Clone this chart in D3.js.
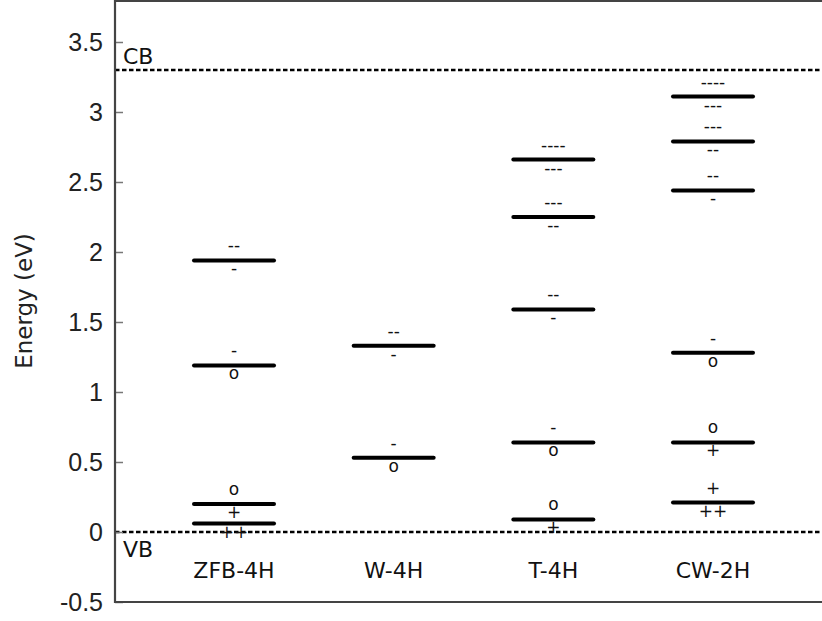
<!DOCTYPE html>
<html>
<head>
<meta charset="utf-8">
<script src="https://cdn.jsdelivr.net/npm/d3@7"></script>
<style>
  html, body { margin: 0; padding: 0; background: #fff; }
  svg { display: block; }
</style>
</head>
<body>
<div id="chart"></div>
<script>
// structures along the x axis
const categories = ['ZFB-4H', 'W-4H', 'T-4H', 'CW-2H'];

// defect levels (eV) with charge-state marks above / below each level
const levels = [
  { cat: 'ZFB-4H', e: 1.94, above: '--',   below: '-'   },
  { cat: 'ZFB-4H', e: 1.19, above: '-',    below: 'o'   },
  { cat: 'ZFB-4H', e: 0.20, above: 'o',    below: '+'   },
  { cat: 'ZFB-4H', e: 0.06, above: '',     below: '++'  },
  { cat: 'W-4H',   e: 1.33, above: '--',   below: '-'   },
  { cat: 'W-4H',   e: 0.53, above: '-',    below: 'o'   },
  { cat: 'T-4H',   e: 2.66, above: '----', below: '---' },
  { cat: 'T-4H',   e: 2.25, above: '---',  below: '--'  },
  { cat: 'T-4H',   e: 1.59, above: '--',   below: '-'   },
  { cat: 'T-4H',   e: 0.64, above: '-',    below: 'o'   },
  { cat: 'T-4H',   e: 0.09, above: 'o',    below: '+'   },
  { cat: 'CW-2H',  e: 3.11, above: '----', below: '---' },
  { cat: 'CW-2H',  e: 2.79, above: '---',  below: '--'  },
  { cat: 'CW-2H',  e: 2.44, above: '--',   below: '-'   },
  { cat: 'CW-2H',  e: 1.28, above: '-',    below: 'o'   },
  { cat: 'CW-2H',  e: 0.64, above: 'o',    below: '+'   },
  { cat: 'CW-2H',  e: 0.21, above: '+',    below: '++'  }
];

// band edges
const bandEdges = [
  { label: 'CB', e: 3.3 },
  { label: 'VB', e: 0 }
];

const yTicks = [-0.5, 0, 0.5, 1, 1.5, 2, 2.5, 3, 3.5];
const yDomain = [-0.5, 3.8];

const width = 822, height = 621;
const plot = { left: 115, right: 840, top: 0, bottom: 602 };

const svg = d3.select('#chart')
  .append('svg')
  .attr('width', width)
  .attr('height', height);

svg.append('rect')
  .attr('width', width)
  .attr('height', height)
  .attr('fill', 'white');

const y = d3.scaleLinear().domain(yDomain).range([plot.bottom, plot.top]);
const x = d3.scalePoint().domain(categories).range([234, 713]);
const halfWidth = 40;

// band edge lines
svg.append('g')
  .selectAll('line')
  .data(bandEdges)
  .join('line')
  .attr('x1', plot.left)
  .attr('x2', plot.right)
  .attr('y1', d => y(d.e))
  .attr('y2', d => y(d.e))
  .attr('stroke', '#000')
  .attr('stroke-width', 2.5)
  .attr('stroke-dasharray', '4.5,2.5');

svg.append('g')
  .selectAll('text')
  .data(bandEdges)
  .join('text')
  .attr('x', plot.left + 8)
  .attr('y', d => d.label === 'CB' ? y(d.e) - 6 : y(d.e) + 25)
  .style('font-family', '"DejaVu Sans", sans-serif')
  .attr('font-size', 22)
  .attr('fill', '#111')
  .text(d => d.label);

// axes frame
const axisColor = '#444';
const yAxis = d3.axisLeft(y)
  .tickValues(yTicks)
  .tickSize(-8)
  .tickPadding(12)
  .tickFormat(d => String(d));

const gy = svg.append('g')
  .attr('transform', `translate(${plot.left},0)`)
  .call(yAxis);
gy.select('.domain').remove();
gy.selectAll('.tick line').attr('stroke', '#777').attr('stroke-width', 1.5);
gy.selectAll('.tick text')
  .style('font-family', '"Liberation Sans", Arial, sans-serif')
  .attr('font-size', 25)
  .attr('fill', '#222');

svg.append('line')
  .attr('x1', plot.left).attr('x2', plot.left)
  .attr('y1', plot.top).attr('y2', plot.bottom + 1)
  .attr('stroke', axisColor).attr('stroke-width', 2.2);
svg.append('line')
  .attr('x1', plot.left).attr('x2', plot.right)
  .attr('y1', plot.bottom).attr('y2', plot.bottom)
  .attr('stroke', axisColor).attr('stroke-width', 2.2);
svg.append('line')
  .attr('x1', plot.left).attr('x2', plot.right)
  .attr('y1', plot.top + 1).attr('y2', plot.top + 1)
  .attr('stroke', axisColor).attr('stroke-width', 2.2);

// y label
svg.append('text')
  .attr('transform', `translate(32,${(plot.top + plot.bottom) / 2}) rotate(-90)`)
  .attr('text-anchor', 'middle')
  .style('font-family', '"DejaVu Sans", sans-serif')
  .attr('font-size', 23)
  .attr('fill', '#222')
  .text('Energy (eV)');

// category labels
svg.append('g')
  .selectAll('text')
  .data(categories)
  .join('text')
  .attr('x', d => x(d))
  .attr('y', y(-0.33))
  .attr('text-anchor', 'middle')
  .style('font-family', '"DejaVu Sans", sans-serif')
  .attr('font-size', 22)
  .attr('fill', '#111')
  .text(d => d);

// defect levels
svg.append('g')
  .selectAll('line')
  .data(levels)
  .join('line')
  .attr('x1', d => x(d.cat) - halfWidth)
  .attr('x2', d => x(d.cat) + halfWidth)
  .attr('y1', d => y(d.e))
  .attr('y2', d => y(d.e))
  .attr('stroke', '#000')
  .attr('stroke-width', 4)
  .attr('stroke-linecap', 'round');

const marks = svg.append('g')
  .style('font-family', '"DejaVu Sans", sans-serif')
  .attr('font-size', 17)
  .attr('fill', '#111')
  .attr('text-anchor', 'middle');

marks.selectAll('text.above')
  .data(levels.filter(d => d.above))
  .join('text')
  .attr('class', 'above')
  .attr('x', d => x(d.cat))
  .attr('y', d => y(d.e) - 9)
  .text(d => d.above);

marks.selectAll('text.below')
  .data(levels.filter(d => d.below))
  .join('text')
  .attr('class', 'below')
  .attr('x', d => x(d.cat))
  .attr('y', d => y(d.e) + 14)
  .text(d => d.below);
</script>
</body>
</html>
